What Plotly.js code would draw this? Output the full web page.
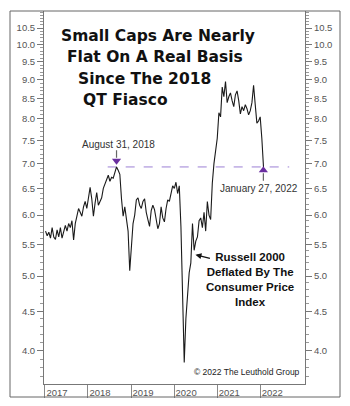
<!DOCTYPE html>
<html><head><meta charset="utf-8">
<script src="https://cdn.plot.ly/plotly-3.0.1.min.js"></script>
<style>html,body{margin:0;padding:0;background:#fff}#chart{width:350px;height:406px}</style>
</head><body><div id="chart"></div>
<script>
// Russell 2000 deflated by CPI, bi-weekly readings (Fridays) starting 2017-01-06
const seriesStart = [2017, 0, 6];
const stepDays = 14;
const v2017 = [5.72,5.64,5.70,5.60,5.78,5.62,5.58,5.74,5.62,5.78,5.60,5.70,5.82,5.72,5.85,5.78,5.90,5.57,5.85,5.98,6.12,6.05,5.98,6.15,6.25,6.12];
const v2018 = [6.28,6.52,6.30,5.98,6.22,6.42,6.18,6.25,6.32,6.50,6.58,6.68,6.76,6.64,6.72,6.70,6.84,6.93,6.86,6.78,6.30,5.98,6.15,5.90,5.72,5.08];
const v2019 = [5.45,5.85,6.00,6.28,6.32,6.18,6.12,6.25,6.30,6.05,5.92,5.80,6.08,6.18,6.10,5.90,5.76,5.85,6.15,5.95,5.88,6.12,6.28,6.25,6.38,6.55];
const v2020 = [6.50,6.62,6.40,6.55,5.80,4.60,3.86,4.40,4.75,5.05,5.20,5.85,5.40,5.55,5.62,5.90,5.95,5.78,6.05,5.72,6.25,6.00,5.92,6.60,7.00,7.35];
const v2021 = [7.55,8.15,8.05,8.80,8.55,8.95,8.40,8.55,8.65,8.45,8.30,8.60,8.70,8.45,8.12,8.30,8.20,8.35,8.25,8.10,8.20,8.40,8.85,8.35,7.90,7.95];
const v2022 = [8.05,7.55,6.93];
const values = [].concat(v2017, v2018, v2019, v2020, v2021, v2022);
const dates = values.map((_, i) => new Date(Date.UTC(seriesStart[0], seriesStart[1], seriesStart[2]) + i * stepDays * 86400000).toISOString().slice(0, 10));

const yTickVals = [4.0,4.5,5.0,5.5,6.0,6.5,7.0,7.5,8.0,8.5,9.0,9.5,10.0,10.5];
const yTickText = ['4.0','4.5','5.0','5.5','6.0','6.5','7.0','7.5','8.0','8.5','9.0','9.5','10.0','10.5'];
const yMinorVals = []; for (let i = 37; i <= 110; i++) yMinorVals.push(i / 10);
const yearTicks = ['2017-01-01','2018-01-01','2019-01-01','2020-01-01','2021-01-01','2022-01-01'];
const yearLabels = ['2017','2018','2019','2020','2021','2022'];

const markerDates = ['2018-08-31','2022-01-27'];
const markerValues = [7.06, 6.86];
const markerSymbols = ['triangle-down','triangle-up'];
const refDates = ['2018-06-17','2022-09-03'];
const refValues = [6.93, 6.93];

const titleLines = ['Small Caps Are Nearly','Flat On A Real Basis','Since The 2018','QT Fiasco'];

const L = Math.log10;
const yRange = [L(3.62), L(11.05)];
const xRange = ['2016-12-24', '2023-01-15'];
const tickFont = {family: 'Arial, Liberation Sans, sans-serif', size: 9.5, color: '#555'};
const yBase = {
  type: 'log', range: yRange, tickmode: 'array', tickvals: yTickVals, ticktext: yTickText,
  ticks: 'outside', ticklen: 6, tickcolor: '#777', tickwidth: 1,
  showline: true, linecolor: '#777', linewidth: 1, showgrid: false, zeroline: false,
  tickfont: tickFont, fixedrange: true,
  minor: {tickmode: 'array', tickvals: yMinorVals, ticks: 'outside', ticklen: 3, tickcolor: '#999', tickwidth: 1, showgrid: false}
};

const traces = [
  {x: refDates, y: refValues, type: 'scatter', mode: 'lines', line: {color: '#9b7fd4', width: 1, dash: 'dash'}, hoverinfo: 'skip', showlegend: false},
  {x: dates, y: values, type: 'scatter', mode: 'lines', line: {color: '#1a1a1a', width: 1.1}, hoverinfo: 'skip', showlegend: false},
  {x: dates, y: values, xaxis: 'x2', yaxis: 'y2', type: 'scatter', mode: 'lines', opacity: 0, hoverinfo: 'skip', showlegend: false},
  {x: markerDates, y: markerValues, type: 'scatter', mode: 'markers', marker: {symbol: markerSymbols, size: 8, color: '#6a2ea0'}, hoverinfo: 'skip', showlegend: false}
];

const titleX = [59, 65, 76, 81], titleY = [36, 57, 79, 100];
const px = v => (v - 44) / 261, py = v => (384 - v) / 373;
const annotations = titleLines.map((t, i) => ({
  text: t, xref: 'paper', yref: 'paper', x: px(titleX[i]), y: py(titleY[i]), xanchor: 'left', yanchor: 'middle',
  showarrow: false, font: {family: 'DejaVu Sans, sans-serif', size: 15.5, color: '#111', weight: 'bold'}
}));
annotations.push(
  {text: 'August 31, 2018', xref: 'paper', yref: 'paper', x: px(118), y: py(144), xanchor: 'center', yanchor: 'middle', showarrow: false, font: {family: 'Arial, Liberation Sans, sans-serif', size: 10, color: '#333'}},
  {text: 'January 27, 2022', xref: 'paper', yref: 'paper', x: px(259), y: py(188), xanchor: 'center', yanchor: 'middle', showarrow: false, font: {family: 'Arial, Liberation Sans, sans-serif', size: 10, color: '#333'}},
  {text: '<b>Russell 2000<br>Deflated By The<br>Consumer Price<br>Index</b>', xref: 'paper', yref: 'paper', x: px(249.5), y: py(279.5), xanchor: 'center', yanchor: 'middle', align: 'center', showarrow: false, font: {family: 'Arial, Liberation Sans, sans-serif', size: 11.5, color: '#111'}},
  {text: '© 2022 The Leuthold Group', xref: 'paper', yref: 'paper', x: px(302), y: py(372), xanchor: 'right', yanchor: 'middle', showarrow: false, font: {family: 'Arial, Liberation Sans, sans-serif', size: 8.5, color: '#222'}},
  {text: '', x: '2020-06-30', y: L(5.33), ax: 16, ay: 4, showarrow: true, arrowhead: 2, arrowsize: 1, arrowwidth: 1.2, arrowcolor: '#111'},
  {text: '', x: markerDates[0], y: L(markerValues[0]), ax: 0, ay: -12, showarrow: true, arrowhead: 0, arrowwidth: 1.2, arrowcolor: '#666', standoff: 3},
  {text: '', x: markerDates[1], y: L(markerValues[1]), ax: 0, ay: 12, showarrow: true, arrowhead: 0, arrowwidth: 1.2, arrowcolor: '#666', standoff: 3}
);

const shapes = [
  {type: 'rect', xref: 'paper', yref: 'paper', x0: px(10), x1: px(340), y0: py(397), y1: py(11), line: {color: '#666', width: 1}, fillcolor: 'rgba(0,0,0,0)'}
];

const layout = {
  width: 350, height: 406, margin: {l: 44, r: 45, t: 11, b: 22},
  paper_bgcolor: '#fff', plot_bgcolor: '#fff', showlegend: false,
  xaxis: {type: 'date', range: xRange, tickmode: 'array', tickvals: yearTicks, ticktext: yearLabels, ticks: '', ticklabelshift: 12,
    showline: true, linecolor: '#777', linewidth: 1, showgrid: false, zeroline: false, tickfont: tickFont, fixedrange: true},
  xaxis2: {type: 'date', overlaying: 'x', anchor: 'y', side: 'bottom', range: xRange, tickmode: 'array', tickvals: yearTicks,
    showticklabels: false, ticks: 'outside', ticklen: 13, tickcolor: '#888', tickwidth: 1, showline: false, showgrid: false, zeroline: false, fixedrange: true},
  yaxis: Object.assign({}, yBase, {side: 'left'}),
  yaxis2: Object.assign({}, yBase, {side: 'right', overlaying: 'y', anchor: 'x'}),
  annotations: annotations, shapes: shapes
};

Plotly.newPlot('chart', traces, layout, {displayModeBar: false, staticPlot: true});
</script></body></html>
